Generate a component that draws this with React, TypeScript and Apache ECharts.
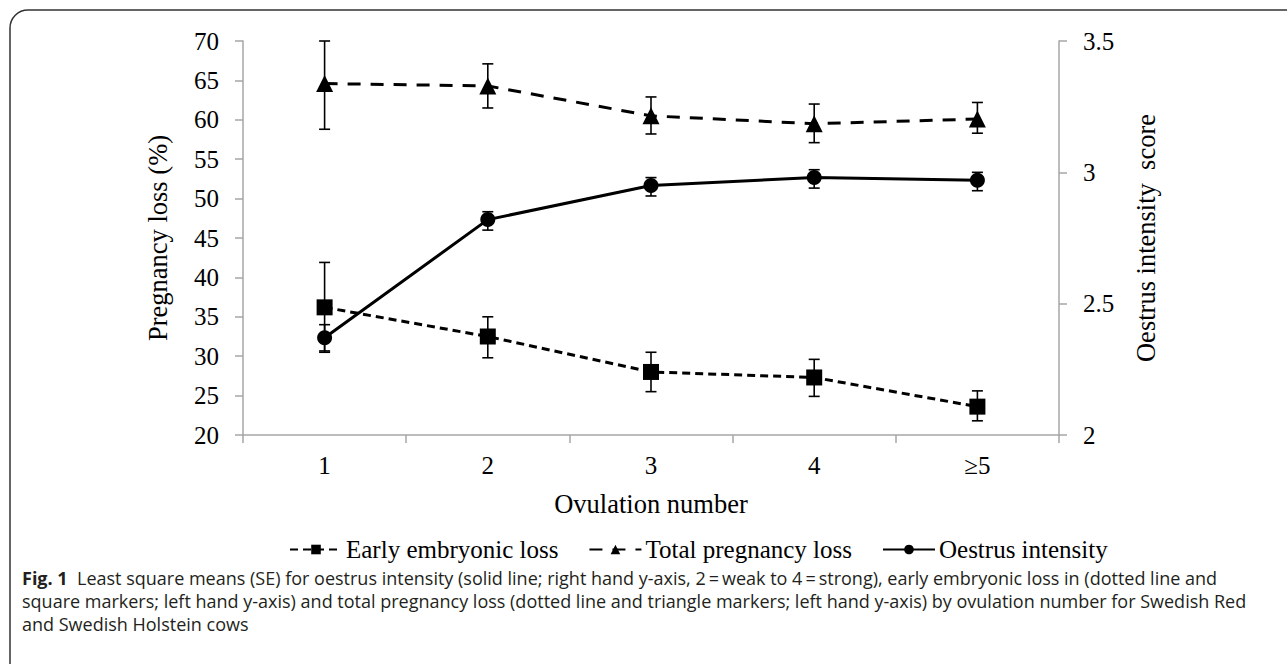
import React, { useEffect, useRef } from "react";
import * as echarts from "echarts";

const categories = ["1", "2", "3", "4", "≥5"];

const earlyLoss = [36.2, 32.5, 28.0, 27.3, 23.6];
const earlyLossLow = [30.5, 29.8, 25.5, 24.9, 21.8];
const earlyLossHigh = [41.9, 35.0, 30.5, 29.6, 25.6];

const totalLoss = [64.6, 64.3, 60.5, 59.5, 60.1];
const totalLossLow = [58.8, 61.5, 58.2, 57.1, 58.3];
const totalLossHigh = [70.0, 67.1, 62.9, 62.0, 62.2];

const oestrus = [2.37, 2.82, 2.95, 2.98, 2.97];
const oestrusLow = [2.32, 2.78, 2.91, 2.94, 2.93];
const oestrusHigh = [2.42, 2.85, 2.98, 3.01, 3.0];

const leftTicks = { min: 20, max: 70, interval: 5 };
const rightTicks = { min: 2, max: 3.5, interval: 0.5 };

const captionLines = [
  "Least square means (SE) for oestrus intensity (solid line; right hand y-axis, 2\u2009=\u2009weak to 4\u2009=\u2009strong), early embryonic loss in (dotted line and",
  "square markers; left hand y-axis) and total pregnancy loss (dotted line and triangle markers; left hand y-axis) by ovulation number for Swedish Red",
  "and Swedish Holstein cows",
];

const SERIF = "'Liberation Serif', 'Times New Roman', serif";
const SANS = "'Open Sans', 'Noto Sans', sans-serif";

function errorSeries(low: number[], high: number[], yAxisIndex: number) {
  return {
    type: "custom",
    yAxisIndex,
    silent: true,
    z: 1,
    data: low.map((l, i) => [i, l, high[i]]),
    renderItem: (params: any, api: any) => {
      const x = api.value(0);
      const lo = api.coord([x, api.value(1)]);
      const hi = api.coord([x, api.value(2)]);
      const hw = 5.5;
      const st = { stroke: "#000", lineWidth: 1.6 };
      return {
        type: "group",
        children: [
          { type: "line", shape: { x1: lo[0], y1: lo[1], x2: hi[0], y2: hi[1] }, style: st },
          { type: "line", shape: { x1: hi[0] - hw, y1: hi[1], x2: hi[0] + hw, y2: hi[1] }, style: st },
          { type: "line", shape: { x1: lo[0] - hw, y1: lo[1], x2: lo[0] + hw, y2: lo[1] }, style: st },
        ],
      };
    },
  };
}

export default function App() {
  const ref = useRef<HTMLDivElement>(null);
  useEffect(() => {
    document.body.style.margin = "0";
    const chart = echarts.init(ref.current!, null, { renderer: "svg" });
    const axisGray = "#a6a6a6";
    const captionSize = 18;
    const titleSize = 26.5;
    const option: any = {
      animation: false,
      backgroundColor: "#fff",
      grid: { left: 243, right: 228, top: 41, bottom: 229 },
      legend: {
        top: 532,
        left: 284,
        itemWidth: 52,
        itemHeight: 12,
        itemGap: 30,
        data: ["Early embryonic loss", "Total pregnancy loss", "Oestrus intensity"],
        textStyle: { fontFamily: SERIF, fontSize: 25, color: "#000", padding: [0, 0, 0, -1] },
      },
      xAxis: {
        type: "category",
        data: categories,
        boundaryGap: true,
        axisLine: { lineStyle: { color: axisGray, width: 1.5 } },
        axisTick: { show: true, length: 8, lineStyle: { color: axisGray, width: 1.5 } },
        axisLabel: { fontFamily: SERIF, fontSize: 25, color: "#000", margin: 18 },
        name: "Ovulation number",
        nameLocation: "middle",
        nameGap: 55,
        nameTextStyle: { fontFamily: SERIF, fontSize: titleSize, color: "#000" },
      },
      yAxis: [
        {
          type: "value",
          position: "left",
          min: leftTicks.min,
          max: leftTicks.max,
          interval: leftTicks.interval,
          splitLine: { show: false },
          axisLine: { show: true, lineStyle: { color: axisGray, width: 1.5 } },
          axisTick: { show: true, length: 8, lineStyle: { color: axisGray, width: 1.5 } },
          axisLabel: { fontFamily: SERIF, fontSize: 25, color: "#000", margin: 24 },
          name: "Pregnancy loss (%)",
          nameLocation: "middle",
          nameRotate: 90,
          nameGap: 72,
          nameTextStyle: { fontFamily: SERIF, fontSize: titleSize, color: "#000" },
        },
        {
          type: "value",
          position: "right",
          min: rightTicks.min,
          max: rightTicks.max,
          interval: rightTicks.interval,
          splitLine: { show: false },
          axisLine: { show: true, lineStyle: { color: axisGray, width: 1.5 } },
          axisTick: { show: true, length: 8, lineStyle: { color: axisGray, width: 1.5 } },
          axisLabel: { fontFamily: SERIF, fontSize: 25, color: "#000", margin: 24 },
          name: "Oestrus intensity  score",
          nameLocation: "middle",
          nameRotate: 90,
          nameGap: 73,
          nameTextStyle: { fontFamily: SERIF, fontSize: titleSize, color: "#000" },
        },
      ],
      series: [
        errorSeries(earlyLossLow, earlyLossHigh, 0),
        errorSeries(totalLossLow, totalLossHigh, 0),
        errorSeries(oestrusLow, oestrusHigh, 1),
        {
          name: "Early embryonic loss",
          type: "line",
          yAxisIndex: 0,
          data: earlyLoss,
          symbol: "rect",
          symbolSize: 16,
          z: 3,
          itemStyle: { color: "#000" },
          lineStyle: { color: "#000", width: 3, type: [8, 5] },
        },
        {
          name: "Total pregnancy loss",
          type: "line",
          yAxisIndex: 0,
          data: totalLoss,
          symbol: "triangle",
          symbolSize: 17,
          z: 3,
          itemStyle: { color: "#000" },
          lineStyle: { color: "#000", width: 3, type: [13, 10] },
        },
        {
          name: "Oestrus intensity",
          type: "line",
          yAxisIndex: 1,
          data: oestrus,
          symbol: "circle",
          symbolSize: 15,
          z: 3,
          itemStyle: { color: "#000" },
          lineStyle: { color: "#000", width: 3 },
        },
      ],
      graphic: [
        {
          type: "rect",
          shape: { x: 10, y: 10, width: 1400, height: 800, r: [18, 0, 0, 0] },
          style: { fill: "none", stroke: "#333", lineWidth: 1.5 },
          silent: true,
        },
        {
          type: "text",
          left: 22,
          top: 569,
          style: {
            text: "{b|Fig. 1}  " + captionLines[0],
            fontFamily: SANS,
            fontSize: captionSize,
            fill: "#231f20",
            rich: { b: { fontFamily: SANS, fontSize: captionSize, fontWeight: "bold", fill: "#231f20" } },
          },
        },
        {
          type: "text",
          left: 22,
          top: 592,
          style: { text: captionLines[1], fontFamily: SANS, fontSize: captionSize, fill: "#231f20" },
        },
        {
          type: "text",
          left: 22,
          top: 615,
          style: { text: captionLines[2], fontFamily: SANS, fontSize: captionSize, fill: "#231f20" },
        },
      ],
    };
    chart.setOption(option);
    return () => chart.dispose();
  }, []);
  return <div ref={ref} style={{ width: 1287, height: 664 }} />;
}
